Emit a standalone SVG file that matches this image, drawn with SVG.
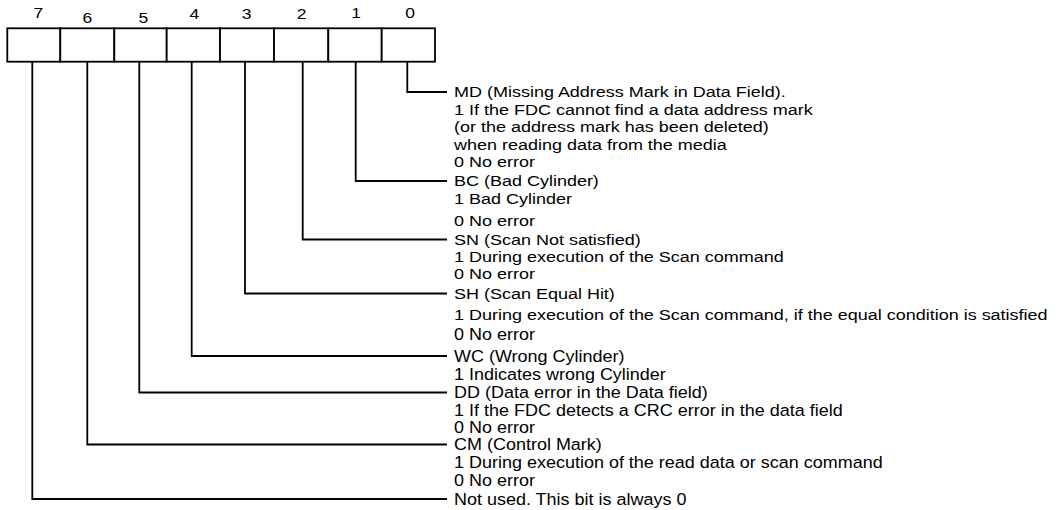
<svg xmlns="http://www.w3.org/2000/svg" width="1057" height="510" viewBox="0 0 1057 510">
<style>
.cell{fill:#fff;stroke:#000;stroke-width:1.8}
.num{font-family:"Liberation Sans",Arial,sans-serif;font-size:14px;fill:#000;text-anchor:middle}
.t{font-family:"Liberation Sans",Arial,sans-serif;font-size:15px;fill:#000}
.tl{font-family:"Liberation Sans",Arial,sans-serif;font-size:16.5px;fill:#000}
.c{fill:none;stroke:#000;stroke-width:1.8}
</style>
<rect width="1057" height="510" fill="#fff"/>
<g id="bit7"><rect class="cell" x="7.3" y="28.3" width="53" height="33.4"/><text class="num" transform="matrix(1.25,0,0,1,38.3,18.3)">7</text></g>
<g id="bit6"><rect class="cell" x="60.3" y="28.3" width="54" height="33.4"/><text class="num" transform="matrix(1.25,0,0,1,87.3,22.5)">6</text></g>
<g id="bit5"><rect class="cell" x="114.3" y="28.3" width="52.4" height="33.4"/><text class="num" transform="matrix(1.25,0,0,1,143.3,22.5)">5</text></g>
<g id="bit4"><rect class="cell" x="166.7" y="28.3" width="53.3" height="33.4"/><text class="num" transform="matrix(1.25,0,0,1,194.3,18.5)">4</text></g>
<g id="bit3"><rect class="cell" x="220" y="28.3" width="54" height="33.4"/><text class="num" transform="matrix(1.25,0,0,1,246.7,18.5)">3</text></g>
<g id="bit2"><rect class="cell" x="274" y="28.3" width="54.3" height="33.4"/><text class="num" transform="matrix(1.25,0,0,1,301.7,18.5)">2</text></g>
<g id="bit1"><rect class="cell" x="328.3" y="28.3" width="53.4" height="33.4"/><text class="num" transform="matrix(1.25,0,0,1,356,18.3)">1</text></g>
<g id="bit0"><rect class="cell" x="381.7" y="28.3" width="53.3" height="33.4"/><text class="num" transform="matrix(1.25,0,0,1,410,18.3)">0</text></g>
<g id="connectors">
<polyline class="c" points="407.3,61.7 407.3,92 447,92"/>
<polyline class="c" points="355.7,61.7 355.7,181 447,181"/>
<polyline class="c" points="302.7,61.7 302.7,239.5 447,239.5"/>
<polyline class="c" points="245,61.7 245,293.5 447,293.5"/>
<polyline class="c" points="191.7,61.7 191.7,356 447,356"/>
<polyline class="c" points="139.3,61.7 139.3,392.5 447,392.5"/>
<polyline class="c" points="87.3,61.7 87.3,444.5 447,444.5"/>
<polyline class="c" points="32.3,61.7 32.3,499 447,499"/>
</g>
<g transform="matrix(1.2,0,0,1,454,0)">
<g id="desc-md">
<text class="t" x="0" y="97.4">MD (Missing Address Mark in Data Field).</text>
<text class="t" x="0" y="114.9">1 If the FDC cannot find a data address mark</text>
<text class="t" x="0" y="132.4">(or the address mark has been deleted)</text>
<text class="t" x="0" y="149.9">when reading data from the media</text>
<text class="t" x="0" y="167.4">0 No error</text>
</g>
<g id="desc-bc">
<text class="t" x="0" y="186.4">BC (Bad Cylinder)</text>
<text class="t" x="0" y="204.4">1 Bad Cylinder</text>
<text class="t" x="0" y="226.4">0 No error</text>
</g>
<g id="desc-sn">
<text class="t" x="0" y="244.9">SN (Scan Not satisfied)</text>
<text class="t" x="0" y="262.4">1 During execution of the Scan command</text>
<text class="t" x="0" y="279.4">0 No error</text>
</g>
<g id="desc-sh">
<text class="t" x="0" y="298.9">SH (Scan Equal Hit)</text>
<text class="t" x="0" y="320.4">1 During execution of the Scan command, if the equal condition is satisfied</text>
</g>
</g>
<g transform="matrix(1.09,0,0,1,454,0)">
<g id="desc-sh-0">
<text class="tl" x="0" y="339.9">0 No error</text>
</g>
<g id="desc-wc">
<text class="tl" x="0" y="361.9">WC (Wrong Cylinder)</text>
<text class="tl" x="0" y="380.4">1 Indicates wrong Cylinder</text>
</g>
<g id="desc-dd">
<text class="tl" x="0" y="398.4">DD (Data error in the Data field)</text>
<text class="tl" x="0" y="415.9">1 If the FDC detects a CRC error in the data field</text>
<text class="tl" x="0" y="433.4">0 No error</text>
</g>
<g id="desc-cm">
<text class="tl" x="0" y="450.4">CM (Control Mark)</text>
<text class="tl" x="0" y="467.9">1 During execution of the read data or scan command</text>
<text class="tl" x="0" y="485.9">0 No error</text>
</g>
<g id="desc-nu">
<text class="tl" x="0" y="504.9">Not used. This bit is always 0</text>
</g>
</g>
</svg>
